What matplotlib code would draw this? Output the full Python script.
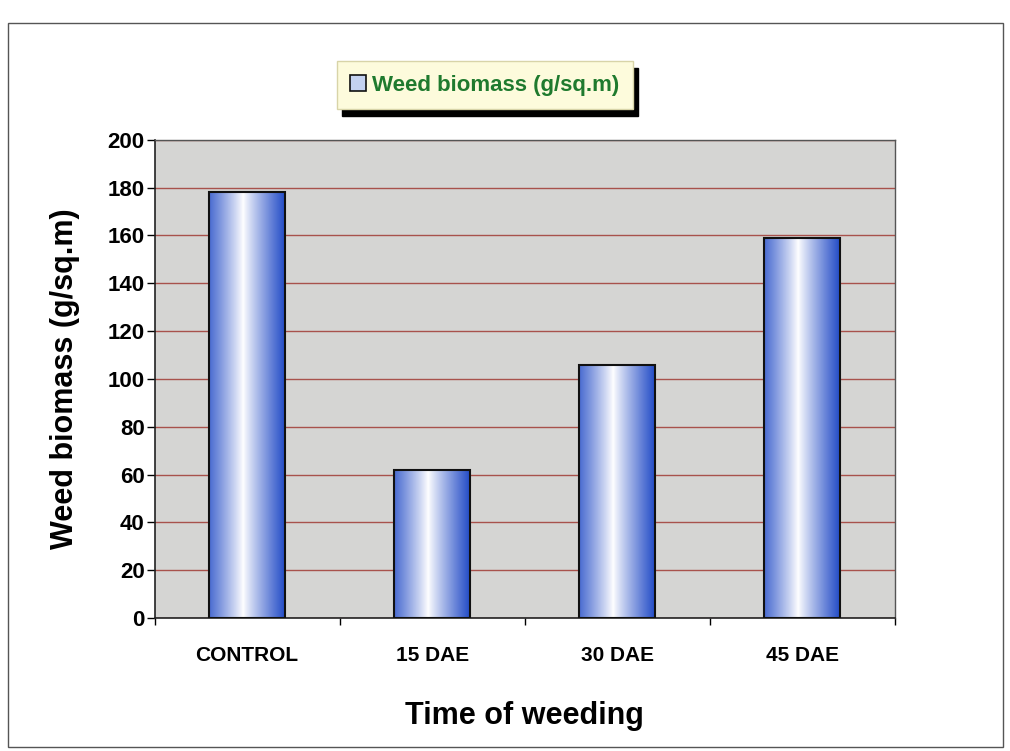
import numpy as np
import matplotlib.pyplot as plt
from matplotlib.patches import Rectangle

plt.rcParams['font.family'] = ['Liberation Sans', 'DejaVu Sans']

categories = ['CONTROL', '15 DAE', '30 DAE', '45 DAE']
biomass = [178, 62, 106, 159]
yticks = [0, 20, 40, 60, 80, 100, 120, 140, 160, 180, 200]

fig = plt.figure(figsize=(10.1, 7.51), dpi=100)
fig.patch.set_facecolor('white')
# thin outer frame around the whole chart
fig.add_artist(Rectangle((0.008, 0.005), 0.985, 0.965, transform=fig.transFigure,
                         fill=False, edgecolor='#555555', linewidth=1.0))

ax = fig.add_axes([0.153, 0.177, 0.733, 0.637])
ax.set_facecolor('#d5d5d3')

x = np.arange(len(categories))
bars = ax.bar(x, biomass, width=0.41, color='none', edgecolor='#111111',
              linewidth=1.5, zorder=4)

# blue gradient: dark edges, white centre
t = np.linspace(0, 1, 256)
prof = np.abs(t - 0.45) / 0.55
prof = np.clip(prof, 0, 1) ** 0.9
dark = np.array([0.14, 0.30, 0.78])
light = np.array([1.0, 1.0, 1.0])
grad = light[None, :] * (1 - prof[:, None]) + dark[None, :] * prof[:, None]
grad = grad[None, :, :]
for b in bars:
    im = ax.imshow(grad, extent=(b.get_x(), b.get_x() + b.get_width(), 0, b.get_height()),
                   aspect='auto', zorder=3, interpolation='bilinear')
    im.set_clip_path(b)

ax.set_xlim(-0.5, len(categories) - 0.5)
ax.set_ylim(0, 200)
ax.set_yticks(yticks)
ax.yaxis.grid(True, color='#a8524c', linewidth=1.0)
ax.set_axisbelow(True)

ax.set_xticks(x)
ax.set_xticklabels(categories, fontsize=15, fontweight='bold')
ax.set_xticks(np.arange(len(categories) + 1) - 0.5, minor=True)
ax.tick_params(axis='x', which='major', length=0, pad=20)
ax.tick_params(axis='x', which='minor', length=5, width=1, direction='out')
ax.tick_params(axis='y', length=6, width=1, labelsize=16, pad=1)
for lab in ax.get_yticklabels():
    lab.set_fontweight('bold')

for s in ['left', 'bottom']:
    ax.spines[s].set_color('#222222')
    ax.spines[s].set_linewidth(1.2)
for s in ['top', 'right']:
    ax.spines[s].set_color('#555555')
    ax.spines[s].set_linewidth(1.0)

ax.set_ylabel('Weed biomass (g/sq.m)', fontsize=22, fontweight='bold', labelpad=20)
ax.set_xlabel('Time of weeding', fontsize=22, fontweight='bold', labelpad=26)

handle = Rectangle((0, 0), 1, 1, facecolor='#c4d2f0', edgecolor='#111111', linewidth=1.2)
leg = ax.legend([handle], ['Weed biomass (g/sq.m)'], loc='lower center',
                bbox_to_anchor=(0.446, 1.05), frameon=True, fancybox=False,
                shadow={'color': 'black', 'alpha': 1.0, 'ox': 4, 'oy': -5},
                borderpad=0.6, handlelength=0.7, handleheight=0.7, handletextpad=0.3,
                borderaxespad=0.3, prop={'weight': 'bold', 'size': 16})
leg.get_frame().set_facecolor('#fdfbdc')
leg.get_frame().set_edgecolor('#d8d4a8')
leg.get_frame().set_alpha(1.0)
for txt in leg.get_texts():
    txt.set_color('#1f7a2e')

fig.savefig('out.png', dpi=100)
